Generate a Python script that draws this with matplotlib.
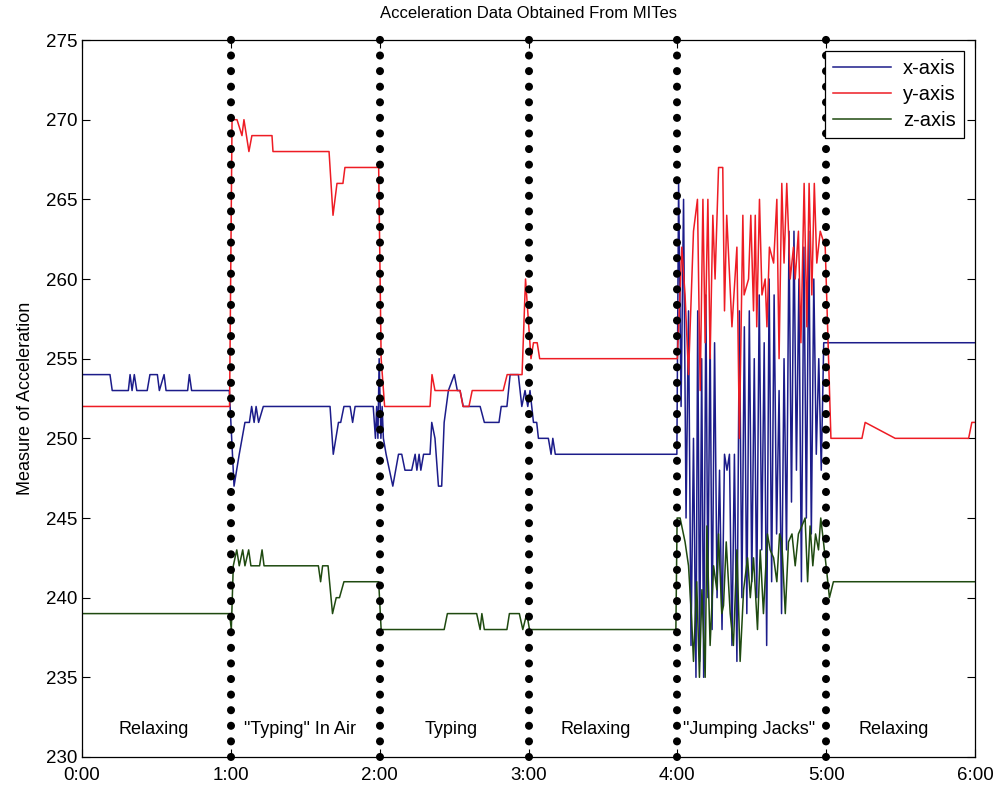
import matplotlib
matplotlib.use("Agg")
import matplotlib.pyplot as plt

plt.rcParams['font.family'] = ['Liberation Sans', 'DejaVu Sans']

# x-axis sensor (seconds, value)
x_t = [0, 11.3, 12.2, 18.7, 19.4, 20.2, 21.1, 22.1, 26.3, 27.4, 30.4, 31.2, 33.1, 33.9,
       42.6, 43.3, 44.2, 59.4, 61.3, 63.4, 65.7, 67.5, 68.4, 69.4, 70.2, 71.2, 73.1,
       100, 101.3, 103.4, 104.3, 105.6, 108.1, 109.1, 110.1, 117.4,
       118.3, 118.8, 119.3, 119.8, 120.5, 121, 121.5, 122.6, 125.3, 127.6, 128.9, 130.2,
       132.9, 134.3, 135, 135.9, 136.6, 137.7, 140.3, 141, 142.3, 143.7, 145, 146, 147.7,
       150.1, 151.3, 152.4, 153.7, 160.5, 162.2, 168.1, 169, 171.3, 172.6, 175.9, 177.3,
       178.6, 179.7, 180.6, 182, 183.3, 184, 188, 189.1, 189.8, 190.8, 239.4, 239.8,
       240.5, 241.5, 242.5, 243.5, 244.5, 245.5, 246.5, 247.5, 248.2, 249.0, 249.8, 250.6,
       251.5, 252.3, 253.2, 254.0, 255.0, 256.0, 257.0, 258.0, 259.0, 260.0, 261.0, 262.0,
       263.0, 264.0, 265.0, 266.0, 267.0, 268.0, 269.0, 270.0, 271.0, 272.0, 273.0, 274.0,
       275.0, 276.0, 277.0, 278.0, 279.0, 280.0, 281.0, 282.0, 283.0, 284.0, 285.0, 286.0,
       287.0, 288.0, 289.0, 290.0, 291.0, 292.0, 293.0, 294.0, 295.0, 296.0, 297.0, 298.0,
       299.0, 300.0, 360]
x_v = [254, 254, 253, 253, 254, 253, 254, 253, 253, 254, 254, 253, 254, 253,
       253, 254, 253, 253, 247, 249, 251, 251, 252, 251, 252, 251, 252,
       252, 249, 251, 251, 252, 252, 251, 252, 252,
       250, 252, 250, 255, 250, 252, 250, 249, 247, 249, 249, 248,
       248, 249, 248, 249, 248, 249, 249, 251, 250, 247, 247, 251, 253,
       254, 253, 253, 252, 252, 251, 251, 252, 252, 254, 254, 252,
       253, 252, 253, 251, 251, 250, 250, 249, 250, 249, 249, 249,
       266, 252, 265, 245, 258, 237, 250, 235, 258, 236, 255, 235,
       259, 240, 257, 238, 256, 240, 248, 238, 249, 248, 249, 237,
       249, 236, 258, 240, 257, 239, 258, 241, 255, 240, 259, 243,
       256, 237, 260, 241, 259, 244, 253, 239, 255, 243, 263, 246,
       263, 248, 260, 241, 262, 245, 263, 244, 260, 249, 255, 248,
       256, 256, 256]

# y-axis sensor
y_t = [0, 59.5, 60.5, 62.5, 64.5, 65.3, 67.3, 68.5, 76.6, 77, 99.6, 101.2, 102.8, 105.2,
       106, 119.6, 120.6, 122, 140.3, 141.1, 142.3, 152.4, 153.6, 156, 157.3, 169.8,
       171.4, 177.4, 178.8, 181, 182, 183.5, 184.5, 239.4, 240,
       241.8, 243.1, 244.5, 246.5, 248.1, 249.2, 250.3, 251.2, 252.3, 253.2, 254.3,
       255.2, 256.6, 258.3, 259.0, 259.9, 262.0, 264.0, 265.0, 266.4, 266.9, 268.7,
       269.6, 270.7, 271.4, 272.0, 273.1, 274.1, 275.4, 276.1, 277.1, 278.8, 280.1,
       281.0, 282.1, 283.0, 284.1, 285.5, 286.8, 287.5, 288.8, 289.8, 291.1, 292.2,
       293.1, 294.2, 295.2, 296.2, 297.6, 299.6, 301.9, 314.4, 315.7, 327.8, 357.4,
       358.7, 360]
y_v = [252, 252, 270, 270, 269, 270, 268, 269, 269, 268, 268, 264, 266, 266,
       267, 267, 255, 252, 252, 254, 253, 253, 252, 252, 253, 253,
       254, 254, 260, 255, 256, 256, 255, 255, 255,
       262, 259, 254, 263, 265, 253, 265, 256, 265, 255, 264,
       260, 267, 267, 258, 264, 257, 262, 250, 264, 259, 260,
       264, 258, 264, 257, 265, 259, 260, 257, 262, 261, 265,
       255, 266, 261, 266, 260, 262, 260, 263, 256, 266, 257,
       266, 259, 266, 261, 263, 262, 250, 250, 251, 250, 250,
       251, 251]

# z-axis sensor
z_t = [0, 59.5, 60.2, 61, 62.4, 63.4, 64.8, 65.7, 67.2, 68.1, 71.6, 72.6, 73.4, 95.3,
       96.2, 97, 99.2, 101, 102.5, 103.8, 105.6, 119.6, 120.6, 146, 147.3, 159.1, 160.5,
       161.2, 162.2, 171.3, 172.3, 176.3, 177.7, 179.3, 180.4, 239.4,
       239.9, 241.1, 243.1, 244.5, 245.8, 246.5, 247.8, 248.9, 249.9, 251.2, 251.9,
       253.2, 254.6, 255.9, 256.6, 257.9, 258.6, 259.7, 261.3, 262.6, 264.0, 265.3,
       266.7, 268.3, 269.4, 270.7, 272.3, 273.4, 274.7, 276.3, 277.4, 278.8, 280.1,
       281.2, 282.1, 283.5, 284.8, 286.2, 287.5, 288.8, 290.2, 291.5, 292.5, 293.5,
       294.6, 295.7, 296.9, 297.8, 298.9, 300.3, 301.3, 302.9, 360]
z_v = [239, 239, 238, 242, 243, 242, 243, 242, 243, 242, 242, 243, 242, 242,
       241, 242, 242, 239, 240, 240, 241, 241, 238, 238, 239, 239, 238,
       239, 238, 238, 239, 239, 238, 239, 238, 238,
       245, 245, 243.5, 242, 238.5, 236, 241, 235, 240.5, 235, 244.5,
       237, 242, 240.5, 244, 239, 239.5, 243.5, 239, 237, 243, 236,
       240.5, 242.5, 240, 242.5, 238, 243, 239, 244, 243, 242.5, 241,
       244, 243.5, 239, 243.5, 244, 242, 244, 244.5, 245, 241, 244.5,
       242, 244, 243, 245, 243.5, 241.5, 240, 241, 241]

boundaries = [60, 120, 180, 240, 300]
activities = ['Relaxing', '"Typing" In Air', 'Typing', 'Relaxing', '"Jumping Jacks"', 'Relaxing']
activity_x = [29, 88, 149, 207, 269, 327]
tick_pos = [0, 60, 120, 180, 240, 300, 360]
tick_lab = ['0:00', '1:00', '2:00', '3:00', '4:00', '5:00', '6:00']

fig = plt.figure(figsize=(9.97, 7.86), dpi=100)
ax = fig.add_axes([0.0822, 0.0369, 0.8958, 0.9122])

ax.plot(x_t, x_v, color='#1c1c8a', lw=1.1, label='x-axis')
ax.plot(y_t, y_v, color='#ee1c24', lw=1.1, label='y-axis')
ax.plot(z_t, z_v, color='#1f4a10', lw=1.1, label='z-axis')

# dotted separators between activities (46 gaps from bottom to top)
for b in boundaries:
    ax.plot([b, b], [230, 275.06], color='black', lw=5.8, linestyle=(0, (0.01, 1.925)),
            dash_capstyle='round', zorder=5, clip_on=False)

for lab, xx in zip(activities, activity_x):
    ax.text(xx, 231.7, lab, ha='center', va='center', fontsize=13, zorder=6)

ax.set_xlim(0, 360)
ax.set_ylim(230, 275)
ax.set_xticks(tick_pos)
ax.set_xticklabels(tick_lab)
ax.set_yticks(range(230, 276, 5))
ax.tick_params(direction='in', top=True, right=True, labelsize=13.5, length=6, pad=3)
ax.tick_params(axis='x', pad=7)
ax.set_ylabel('Measure of Acceleration', fontsize=13, labelpad=9)
ax.set_title('Acceleration Data Obtained From MITes', fontsize=12, pad=16)
for s in ax.spines.values():
    s.set_linewidth(0.9)

leg = ax.legend(loc='upper right', fontsize=14.5, handlelength=2.9, fancybox=False,
                edgecolor='black', framealpha=1, borderaxespad=0.55,
                handletextpad=0.6, labelspacing=0.35)
leg.set_zorder(10)
leg.get_frame().set_linewidth(0.9)

fig.savefig('out.png', dpi=100)
